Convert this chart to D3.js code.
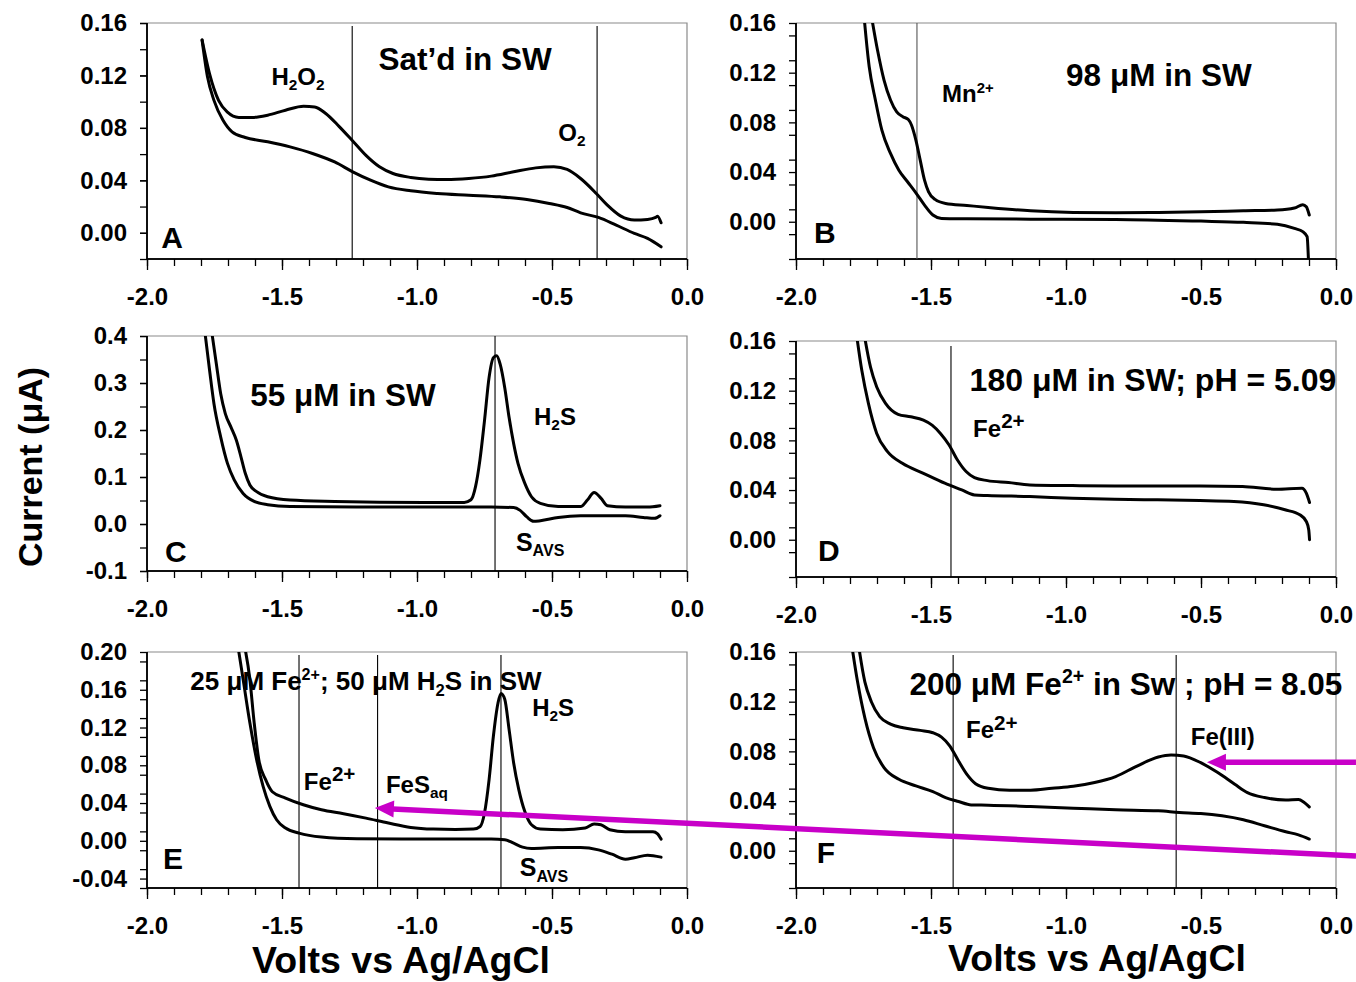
<!DOCTYPE html>
<html>
<head>
<meta charset="utf-8">
<script src="https://cdn.jsdelivr.net/npm/d3@7"></script>
<style>
  body { margin: 0; background: #fff; }
  svg text { font-family: "Liberation Sans", Arial, sans-serif; font-weight: bold; fill: #000; }
</style>
</head>
<body>
<svg id="fig" width="1356" height="982"></svg>
<script>
// ---- Voltammetric scans: [potential (V vs Ag/AgCl), current (µA)] ----
// A: oxygen-saturated seawater
const scanA_sample = [[-1.796,0.147],[-1.768,0.121],[-1.735,0.101],[-1.702,0.092],[-1.66,0.088],[-1.61,0.088],[-1.553,0.0897],[-1.487,0.0935],[-1.42,0.0965],[-1.379,0.096],[-1.338,0.091],[-1.288,0.081],[-1.238,0.070],[-1.189,0.059],[-1.139,0.0503],[-1.089,0.0452],[-1.023,0.0422],[-0.957,0.0409],[-0.891,0.0406],[-0.808,0.0414],[-0.725,0.0432],[-0.642,0.0465],[-0.56,0.0495],[-0.493,0.0503],[-0.444,0.0483],[-0.394,0.0414],[-0.336,0.030],[-0.295,0.0211],[-0.245,0.0127],[-0.195,0.0097],[-0.146,0.0102],[-0.116,0.0117],[-0.109,0.0127],[-0.096,0.0076]];
const scanA_blank = [[-1.796,0.147],[-1.776,0.119],[-1.752,0.101],[-1.719,0.086],[-1.685,0.077],[-1.636,0.0727],[-1.553,0.0694],[-1.47,0.0655],[-1.387,0.0605],[-1.305,0.054],[-1.238,0.0465],[-1.172,0.0401],[-1.106,0.035],[-1.023,0.032],[-0.924,0.030],[-0.808,0.0287],[-0.692,0.0274],[-0.593,0.0254],[-0.51,0.0224],[-0.444,0.0193],[-0.394,0.0152],[-0.328,0.0117],[-0.262,0.0058],[-0.195,-0.0005],[-0.146,-0.0043],[-0.096,-0.0107]];
// B: Mn2+
const scanB_sample = [[-1.728,0.175],[-1.698,0.138],[-1.674,0.114],[-1.65,0.098],[-1.627,0.0884],[-1.603,0.0844],[-1.584,0.0823],[-1.572,0.0777],[-1.556,0.0657],[-1.54,0.0496],[-1.524,0.0335],[-1.509,0.0241],[-1.485,0.018],[-1.446,0.0147],[-1.367,0.0131],[-1.288,0.0115],[-1.131,0.0088],[-0.973,0.0075],[-0.816,0.0072],[-0.658,0.0075],[-0.5,0.008],[-0.343,0.0088],[-0.217,0.0094],[-0.154,0.011],[-0.123,0.0137],[-0.11,0.012],[-0.099,0.0054]];
const scanB_blank = [[-1.752,0.175],[-1.729,0.125],[-1.706,0.098],[-1.682,0.0737],[-1.65,0.055],[-1.619,0.0415],[-1.587,0.0322],[-1.556,0.0233],[-1.524,0.0134],[-1.493,0.0054],[-1.461,0.0027],[-1.367,0.0024],[-1.131,0.0021],[-0.816,0.0019],[-0.5,0.0005],[-0.343,-0.0005],[-0.217,-0.0021],[-0.154,-0.0054],[-0.123,-0.008],[-0.107,-0.012],[-0.102,-0.031]];
// C: H2S
const scanC_sample = [[-1.763,0.42],[-1.743,0.34],[-1.727,0.277],[-1.71,0.235],[-1.689,0.206],[-1.669,0.178],[-1.652,0.143],[-1.636,0.108],[-1.619,0.083],[-1.594,0.069],[-1.553,0.058],[-1.47,0.051],[-1.305,0.048],[-1.139,0.0465],[-0.973,0.046],[-0.825,0.046],[-0.8,0.0515],[-0.783,0.08],[-0.767,0.136],[-0.75,0.22],[-0.733,0.312],[-0.717,0.354],[-0.705,0.358],[-0.692,0.34],[-0.675,0.29],[-0.659,0.227],[-0.642,0.171],[-0.626,0.129],[-0.601,0.087],[-0.576,0.058],[-0.543,0.044],[-0.477,0.037],[-0.394,0.037],[-0.369,0.051],[-0.344,0.067],[-0.319,0.055],[-0.295,0.039],[-0.228,0.036],[-0.146,0.036],[-0.1,0.039]];
const scanC_blank = [[-1.788,0.42],[-1.768,0.326],[-1.752,0.256],[-1.727,0.185],[-1.702,0.129],[-1.677,0.094],[-1.644,0.065],[-1.603,0.048],[-1.553,0.041],[-1.47,0.037],[-1.222,0.036],[-0.891,0.036],[-0.725,0.036],[-0.642,0.035],[-0.618,0.029],[-0.593,0.015],[-0.568,0.0056],[-0.543,0.007],[-0.477,0.014],[-0.394,0.0176],[-0.228,0.0176],[-0.162,0.014],[-0.12,0.012],[-0.1,0.0176]];
// D: Fe2+, pH 5.09
const scanD_sample = [[-1.755,0.175],[-1.724,0.139],[-1.701,0.123],[-1.669,0.11],[-1.622,0.101],[-1.575,0.099],[-1.528,0.0963],[-1.496,0.0923],[-1.465,0.0856],[-1.433,0.0763],[-1.402,0.0642],[-1.37,0.0549],[-1.339,0.05],[-1.291,0.0476],[-1.213,0.046],[-1.134,0.0441],[-0.976,0.0436],[-0.819,0.0433],[-0.661,0.0433],[-0.504,0.0433],[-0.346,0.0428],[-0.22,0.0407],[-0.126,0.0415],[-0.11,0.0375],[-0.098,0.030]];
const scanD_blank = [[-1.782,0.175],[-1.756,0.136],[-1.732,0.11],[-1.701,0.0856],[-1.661,0.0709],[-1.606,0.0615],[-1.528,0.0535],[-1.449,0.0455],[-1.386,0.0401],[-1.339,0.0361],[-1.291,0.0356],[-1.134,0.0348],[-0.976,0.0334],[-0.819,0.0326],[-0.661,0.0321],[-0.504,0.0316],[-0.378,0.0308],[-0.268,0.0281],[-0.189,0.0241],[-0.134,0.0201],[-0.11,0.0147],[-0.101,0.008],[-0.098,0.0]];
// E: Fe2+ + H2S
const scanE_sample = [[-1.645,0.215],[-1.619,0.171],[-1.603,0.125],[-1.586,0.086],[-1.561,0.065],[-1.536,0.052],[-1.487,0.0453],[-1.421,0.0382],[-1.354,0.0329],[-1.272,0.0287],[-1.189,0.024],[-1.106,0.0188],[-1.023,0.0142],[-0.94,0.0124],[-0.858,0.012],[-0.791,0.0124],[-0.766,0.0152],[-0.75,0.0294],[-0.733,0.0648],[-0.717,0.111],[-0.7,0.146],[-0.689,0.156],[-0.675,0.15],[-0.659,0.118],[-0.642,0.0825],[-0.623,0.0542],[-0.601,0.0312],[-0.576,0.017],[-0.543,0.0124],[-0.46,0.0117],[-0.377,0.0135],[-0.344,0.0177],[-0.319,0.017],[-0.286,0.0117],[-0.228,0.0096],[-0.162,0.0096],[-0.126,0.0096],[-0.109,0.0074],[-0.096,0.0018]];
const scanE_blank = [[-1.668,0.215],[-1.644,0.171],[-1.619,0.125],[-1.594,0.086],[-1.57,0.0577],[-1.545,0.0365],[-1.52,0.0223],[-1.487,0.0135],[-1.437,0.0081],[-1.354,0.0039],[-1.222,0.0021],[-1.056,0.0018],[-0.891,0.0018],[-0.725,0.0018],[-0.675,0.0011],[-0.642,-0.0025],[-0.609,-0.0067],[-0.576,-0.0081],[-0.477,-0.0071],[-0.394,-0.0071],[-0.328,-0.0096],[-0.278,-0.0142],[-0.228,-0.0195],[-0.195,-0.018],[-0.146,-0.0152],[-0.096,-0.0173]];
// F: Fe2+, pH 8.05
const scanF_sample = [[-1.775,0.175],[-1.745,0.136],[-1.721,0.12],[-1.69,0.108],[-1.65,0.102],[-1.603,0.099],[-1.54,0.0969],[-1.493,0.095],[-1.461,0.0915],[-1.43,0.0843],[-1.398,0.0723],[-1.367,0.0615],[-1.335,0.054],[-1.288,0.0503],[-1.209,0.0487],[-1.131,0.0487],[-1.052,0.0503],[-0.973,0.0519],[-0.894,0.0549],[-0.816,0.0597],[-0.737,0.0682],[-0.658,0.0755],[-0.611,0.0771],[-0.564,0.0763],[-0.501,0.0709],[-0.438,0.0629],[-0.375,0.0535],[-0.328,0.0468],[-0.265,0.0428],[-0.186,0.0409],[-0.139,0.0412],[-0.12,0.0393],[-0.099,0.0353]];
const scanF_blank = [[-1.8,0.175],[-1.772,0.136],[-1.745,0.107],[-1.713,0.083],[-1.674,0.0669],[-1.619,0.0575],[-1.556,0.0522],[-1.493,0.0476],[-1.446,0.0428],[-1.398,0.0396],[-1.351,0.0369],[-1.288,0.0367],[-1.131,0.0356],[-0.973,0.0343],[-0.816,0.0329],[-0.658,0.0321],[-0.58,0.0308],[-0.501,0.03],[-0.422,0.0281],[-0.343,0.0249],[-0.265,0.0201],[-0.186,0.0153],[-0.139,0.0128],[-0.099,0.0094]];

// ---- Axis values ----
const xDomain = [-2.0, 0.0];
const xMajorTicks = [-2.0, -1.5, -1.0, -0.5, 0.0];
const xMinorStep = 0.1;
const yDomainA = [-0.02, 0.16], yTicksA = [0.00, 0.04, 0.08, 0.12, 0.16];
const yDomainB = [-0.03, 0.16], yTicksB = [0.00, 0.04, 0.08, 0.12, 0.16];
const yDomainC = [-0.1, 0.4],   yTicksC = [-0.1, 0.0, 0.1, 0.2, 0.3, 0.4];
const yDomainD = [-0.03, 0.16], yTicksD = [0.00, 0.04, 0.08, 0.12, 0.16];
const yDomainE = [-0.05, 0.20], yTicksE = [-0.04, 0.00, 0.04, 0.08, 0.12, 0.16, 0.20];
const yDomainF = [-0.03, 0.16], yTicksF = [0.00, 0.04, 0.08, 0.12, 0.16];

// Peak-potential reference lines (V)
const markersA = [-1.24, -0.333];
const markersB = [-1.552];
const markersC = [-0.711];
const markersD = [-1.426];
const markersE = [-1.437, -1.146, -0.689];
const markersF = [-1.418, -0.592];

// ---- Layout ----
const frames = {
  A: {left: 147, right: 687, top: 23,  bottom: 259, gap: 3, markerColor: "#000"},
  B: {left: 796, right: 1336, top: 23,  bottom: 259, gap: 0, markerColor: "#555"},
  C: {left: 147, right: 687, top: 336, bottom: 571, gap: 0, markerColor: "#000"},
  D: {left: 796, right: 1336, top: 341, bottom: 577, gap: 5, markerColor: "#000"},
  E: {left: 147, right: 687, top: 652, bottom: 888, gap: 3, markerColor: "#000"},
  F: {left: 796, right: 1336, top: 652, bottom: 888, gap: 3, markerColor: "#000"}
};
const panels = [
  {id: "A", yDomain: yDomainA, yTicks: yTicksA, yMinor: 0.02, digits: 2, scans: [scanA_sample, scanA_blank], markers: markersA},
  {id: "B", yDomain: yDomainB, yTicks: yTicksB, yMinor: 0.02, digits: 2, scans: [scanB_sample, scanB_blank], markers: markersB},
  {id: "C", yDomain: yDomainC, yTicks: yTicksC, yMinor: 0.05, digits: 1, scans: [scanC_sample, scanC_blank], markers: markersC},
  {id: "D", yDomain: yDomainD, yTicks: yTicksD, yMinor: 0.02, digits: 2, scans: [scanD_sample, scanD_blank], markers: markersD},
  {id: "E", yDomain: yDomainE, yTicks: yTicksE, yMinor: 0.02, digits: 2, scans: [scanE_sample, scanE_blank], markers: markersE},
  {id: "F", yDomain: yDomainF, yTicks: yTicksF, yMinor: 0.02, digits: 2, scans: [scanF_sample, scanF_blank], markers: markersF}
];

// Labels placed in each panel's data coordinates. Parts: [text, style]
const labels = [
  {p: "A", v: -1.441, i: 0.1128, size: 24, anchor: "middle", parts: [["H"],["2","sub"],["O"],["2","sub"]]},
  {p: "A", v: -0.822, i: 0.1242, size: 31.5, anchor: "middle", parts: [["Sat\u2019d in SW"]]},
  {p: "A", v: -0.426, i: 0.0700, size: 24, anchor: "middle", parts: [["O"],["2","sub"]]},
  {p: "A", v: -1.907, i: -0.0114, size: 30, anchor: "middle", parts: [["A"]]},
  {p: "B", v: -1.459, i: 0.0962, size: 24, anchor: "start", parts: [["Mn"],["2+","sup"]]},
  {p: "B", v: -0.656, i: 0.1090, size: 31.5, anchor: "middle", parts: [["98 \u03bcM in SW"]]},
  {p: "B", v: -1.893, i: -0.0171, size: 30, anchor: "middle", parts: [["B"]]},
  {p: "C", v: -1.274, i: 0.251, size: 31.5, anchor: "middle", parts: [["55 \u03bcM in SW"]]},
  {p: "C", v: -0.489, i: 0.211, size: 24, anchor: "middle", parts: [["H"],["2","sub"],["S"]]},
  {p: "C", v: -0.544, i: -0.057, size: 25, anchor: "middle", parts: [["S"],["AVS","sub"]]},
  {p: "C", v: -1.893, i: -0.081, size: 30, anchor: "middle", parts: [["C"]]},
  {p: "D", v: -0.678, i: 0.1196, size: 32, anchor: "middle", parts: [["180 \u03bcM in SW; pH = 5.09"]]},
  {p: "D", v: -1.344, i: 0.0826, size: 24, anchor: "start", parts: [["Fe"],["2+","supL"]]},
  {p: "D", v: -1.878, i: -0.0171, size: 30, anchor: "middle", parts: [["D"]]},
  {p: "E", v: -1.189, i: 0.1597, size: 26, anchor: "middle", parts: [["25 \u03bcM Fe"],["2+","sup"],["; 50 \u03bcM H"],["2","sub"],["S in SW"]]},
  {p: "E", v: -0.496, i: 0.132, size: 24, anchor: "middle", parts: [["H"],["2","sub"],["S"]]},
  {p: "E", v: -1.419, i: 0.0538, size: 24, anchor: "start", parts: [["Fe"],["2+","supL"]]},
  {p: "E", v: -1.115, i: 0.0506, size: 24, anchor: "start", parts: [["FeS"],["aq","sub"]]},
  {p: "E", v: -0.530, i: -0.0373, size: 25, anchor: "middle", parts: [["S"],["AVS","sub"]]},
  {p: "E", v: -1.904, i: -0.0299, size: 30, anchor: "middle", parts: [["E"]]},
  {p: "F", v: -0.778, i: 0.1252, size: 31.5, anchor: "middle", parts: [["200 \u03bcM Fe"],["2+","sup"],[" in Sw ; pH = 8.05"]]},
  {p: "F", v: -1.370, i: 0.0906, size: 24, anchor: "start", parts: [["Fe"],["2+","supL"]]},
  {p: "F", v: -0.419, i: 0.0851, size: 24, anchor: "middle", parts: [["Fe(III)"]]},
  {p: "F", v: -1.889, i: -0.0099, size: 30, anchor: "middle", parts: [["F"]]}
];

// Highlight arrows: tip in one panel, tail at the right edge of the figure (in panel F units)
const arrows = [
  {tip: {p: "E", v: -1.156, i: 0.0347}, tail: {p: "F", v: 0.074, i: -0.0043}},
  {tip: {p: "F", v: -0.478, i: 0.0713}, tail: {p: "F", v: 0.074, i: 0.0713}}
];
const arrowColor = "#c800c8";

const svg = d3.select("#fig");
const scales = {};

function richText(g, x, y, parts, size, anchor) {
  const t = g.append("text").attr("x", x).attr("y", y)
    .attr("text-anchor", anchor).style("font-size", size + "px");
  let offset = 0;
  parts.forEach(([txt, mode]) => {
    let target = 0, fs = size;
    if (mode === "sub") { target = 0.22 * size; fs = 0.64 * size; }
    else if (mode === "sup") { target = -0.40 * size; fs = 0.62 * size; }
    else if (mode === "supL") { target = -0.36 * size; fs = 0.86 * size; }
    t.append("tspan").attr("dy", target - offset).style("font-size", fs + "px").text(txt);
    offset = target;
  });
  return t;
}

function fmt(v, d) {
  const s = Math.abs(v).toFixed(d);
  return (v < -1e-9 ? "-" : "") + s;
}

panels.forEach(pn => {
  const f = frames[pn.id];
  const x = d3.scaleLinear().domain(xDomain).range([f.left, f.right]);
  const y = d3.scaleLinear().domain(pn.yDomain).range([f.bottom, f.top]);
  scales[pn.id] = {x, y};
  const g = svg.append("g");

  // frame (top and right)
  g.append("path")
    .attr("d", `M${f.left},${f.top}H${f.right}V${f.bottom}`)
    .attr("fill", "none").attr("stroke", "#8a8a8a").attr("stroke-width", 1.2);

  // x axis
  const xMinor = d3.range(xDomain[0], xDomain[1] + 1e-9, xMinorStep).map(v => +v.toFixed(2));
  const xAxisMinor = d3.axisBottom(x).tickValues(xMinor).tickSize(7).tickFormat("");
  const xAxisMajor = d3.axisBottom(x).tickValues(xMajorTicks).tickSize(11).tickPadding(18)
    .tickFormat(v => fmt(v, 1));
  [xAxisMinor, xAxisMajor].forEach(ax => {
    const a = g.append("g").attr("transform", `translate(0,${f.bottom})`).call(ax);
    a.select(".domain").attr("stroke", "#000").attr("stroke-width", 1.5)
      .attr("d", `M${f.left},0H${f.right}`);
    a.selectAll(".tick line").attr("stroke", "#000").attr("stroke-width", 1.3);
    a.selectAll(".tick text").style("font-size", "24px")
      .style("font-family", '"Liberation Sans", Arial, sans-serif').style("font-weight", "bold").attr("fill", "#000");
  });

  // y axis
  const yMinor = d3.range(pn.yDomain[0], pn.yDomain[1] + 1e-9, pn.yMinor).map(v => +v.toFixed(3));
  const yAxisMinor = d3.axisLeft(y).tickValues(yMinor).tickSize(7).tickFormat("");
  const yAxisMajor = d3.axisLeft(y).tickValues(pn.yTicks).tickSize(7).tickPadding(13)
    .tickFormat(v => fmt(v, pn.digits));
  [yAxisMinor, yAxisMajor].forEach(ax => {
    const a = g.append("g").attr("transform", `translate(${f.left},0)`).call(ax);
    a.select(".domain").attr("stroke", "#000").attr("stroke-width", 1.5)
      .attr("d", `M0,${f.top}V${f.bottom}`);
    a.selectAll(".tick line").attr("stroke", "#000").attr("stroke-width", 1.3);
    a.selectAll(".tick text").style("font-size", "24px")
      .style("font-family", '"Liberation Sans", Arial, sans-serif').style("font-weight", "bold").attr("fill", "#000");
  });

  // reference lines
  g.selectAll("line.marker").data(pn.markers).join("line").attr("class", "marker")
    .attr("x1", d => x(d)).attr("x2", d => x(d))
    .attr("y1", f.top + f.gap).attr("y2", f.bottom)
    .attr("stroke", f.markerColor).attr("stroke-width", 1.1);

  // scans
  const clipId = "clip" + pn.id;
  svg.append("clipPath").attr("id", clipId).append("rect")
    .attr("x", f.left).attr("y", f.top).attr("width", f.right - f.left + 4).attr("height", f.bottom - f.top);
  const line = d3.line().x(d => x(d[0])).y(d => y(d[1])).curve(d3.curveMonotoneX);
  g.append("g").attr("clip-path", `url(#${clipId})`)
    .selectAll("path").data(pn.scans).join("path")
    .attr("d", line).attr("fill", "none").attr("stroke", "#000")
    .attr("stroke-width", 3).attr("stroke-linejoin", "round").attr("stroke-linecap", "round");
});

// panel annotations
labels.forEach(l => {
  const s = scales[l.p];
  richText(svg, s.x(l.v), s.y(l.i), l.parts, l.size, l.anchor);
});

// axis titles
svg.append("text").attr("transform", "translate(42,467) rotate(-90)")
  .attr("text-anchor", "middle").style("font-size", "34px").text("Current (\u03bcA)");
svg.append("text").attr("x", 401).attr("y", 973).attr("text-anchor", "middle")
  .style("font-size", "37.5px").text("Volts vs Ag/AgCl");
svg.append("text").attr("x", 1097).attr("y", 971).attr("text-anchor", "middle")
  .style("font-size", "37.5px").text("Volts vs Ag/AgCl");

// magenta arrows
const arrowG = svg.append("g");
arrows.forEach(a => {
  const tx = scales[a.tip.p].x(a.tip.v), ty = scales[a.tip.p].y(a.tip.i);
  const sx = scales[a.tail.p].x(a.tail.v), sy = scales[a.tail.p].y(a.tail.i);
  const len = Math.hypot(sx - tx, sy - ty);
  const ux = (sx - tx) / len, uy = (sy - ty) / len;
  const headL = 19, headW = 8.5;
  const bx = tx + ux * headL, by = ty + uy * headL;
  arrowG.append("line").attr("x1", sx).attr("y1", sy).attr("x2", bx - ux * 1).attr("y2", by - uy * 1)
    .attr("stroke", arrowColor).attr("stroke-width", 5.5);
  arrowG.append("path")
    .attr("d", `M${tx},${ty}L${bx - uy * headW},${by + ux * headW}L${bx + uy * headW},${by - ux * headW}Z`)
    .attr("fill", arrowColor);
});
</script>
</body>
</html>
